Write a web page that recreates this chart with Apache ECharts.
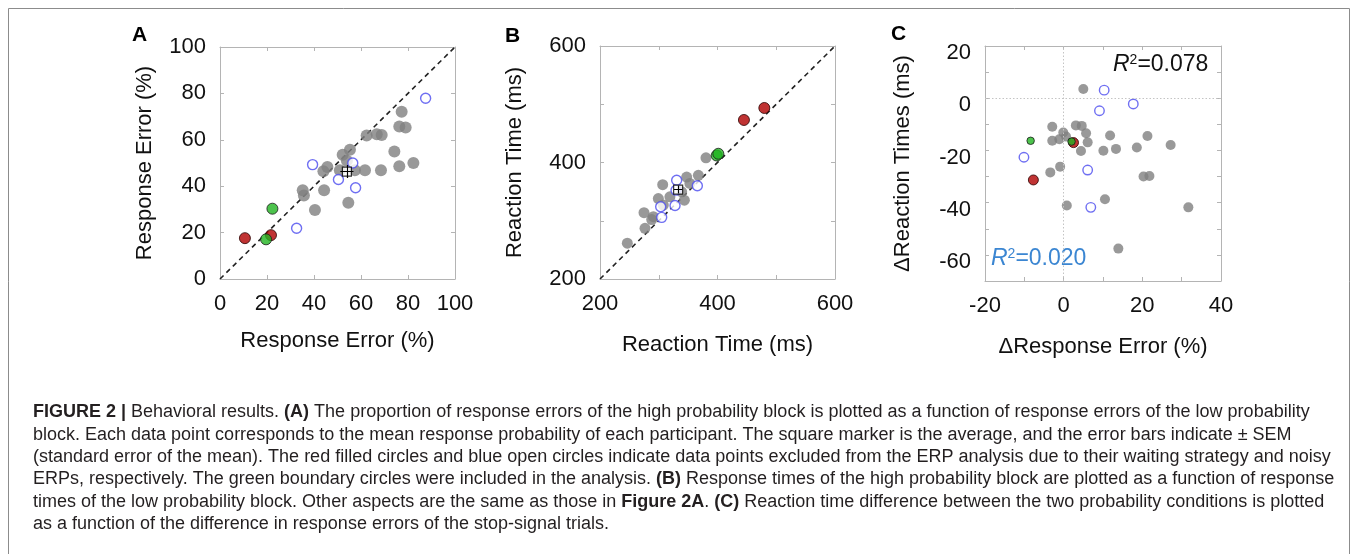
<!DOCTYPE html>
<html>
<head>
<meta charset="utf-8">
<script src="https://cdn.jsdelivr.net/npm/echarts@6/dist/echarts.min.js"></script>
<style>
  html, body { margin: 0; padding: 0; background: #fff; }
  #chart { width: 1358px; height: 554px; }
</style>
</head>
<body>
<div id="chart"></div>
<script>
// ---- panel A : response error (%) low vs high probability block ----
const aGray = [[35.2, 38.3], [35.7, 36.0], [40.4, 29.7], [44.3, 38.3], [44.0, 46.4], [45.7, 48.3],
  [54.6, 32.9], [52.2, 53.6], [55.3, 55.7], [54.0, 51.0], [51.0, 46.9], [57.4, 46.9], [61.7, 46.9],
  [62.4, 61.9], [66.7, 62.4], [68.8, 62.1], [68.5, 46.9], [74.2, 55.0], [76.3, 48.6], [76.3, 65.7],
  [79.0, 65.3], [77.3, 72.1], [82.3, 50.0]];
const aBlue = [[39.4, 49.3], [32.6, 21.9], [50.4, 42.9], [56.5, 50.0], [57.7, 39.3], [87.5, 77.9]];
const aRed = [[10.6, 17.6], [21.7, 18.9]];
const aGreen = [[22.3, 30.3], [19.6, 17.1]];
const aMean = [54.0, 46.3];
const aSem = [2.8, 2.8];
const aDiag = [[0, 0], [100, 100]];

// ---- panel B : reaction time (ms) ----
const bGray = [[246.5, 261.5], [274.9, 313.8], [276.6, 287.0], [288.0, 302.0], [290.8, 307.0],
  [306.7, 362.0], [299.3, 338.0], [307.8, 326.9], [319.0, 341.0], [343.6, 335.4], [347.5, 375.0],
  [353.0, 364.0], [367.4, 378.0], [380.4, 408.0], [339.0, 349.6]];
const bBlue = [[330.5, 369.6], [329.4, 352.5], [303.3, 324.0], [305.0, 305.8], [327.7, 326.3], [365.7, 360.0]];
const bRed = [[445.0, 473.0], [479.7, 493.6]];
const bGreen = [[398.6, 412.0], [401.4, 415.0]];
const bMean = [333.0, 353.6];
const bSem = [7, 7];
const bDiag = [[200, 200], [600, 600]];

// ---- panel C : differences ----
const cGray = [[5.0, 3.5], [-2.9, -10.9], [-2.9, -16.3], [-1.1, -15.7], [-0.1, -13.1], [0.6, -14.7],
  [-0.9, -26.2], [-3.4, -28.4], [0.8, -41.1], [3.1, -10.4], [4.6, -10.6], [5.7, -13.4], [6.1, -16.9],
  [4.4, -20.2], [10.1, -20.1], [11.8, -14.3], [13.3, -19.4], [10.5, -38.7], [13.9, -57.6], [18.6, -18.9],
  [21.3, -14.5], [20.3, -30.0], [21.8, -29.8], [27.2, -17.9], [31.7, -41.8]];
const cBlue = [[-10.1, -22.6], [10.3, 3.1], [9.1, -4.8], [17.7, -2.2], [6.1, -27.5], [6.9, -41.8]];
const cRed = [[-7.7, -31.3], [2.5, -17.0]];
const cGreen = [[-8.4, -16.3], [2.0, -16.6]];

// axis ranges / ticks  [min, max, tick step, label step]
const aRange = [0, 100, 20, 20];
const bRange = [200, 600, 100, 200];
const cxRange = [-20, 40, 10, 20];
const cyRange = [-70, 20, 10, 20];

const axisTitles = ['Response Error (%)', 'Reaction Time (ms)', 'ΔResponse Error (%)', 'ΔReaction Times (ms)'];

const FONT = '"Liberation Sans", Arial, Helvetica, sans-serif';
const frameColor = '#b4b4b4';
const grayDot = '#808080';
const blueRing = '#4b4bef';
const redDot = '#b00000';
const greenDot = '#20b420';

const grids = [
  { left: 220, top: 47, width: 235, height: 232 },
  { left: 600, top: 46, width: 235, height: 233 },
  { left: 985, top: 46, width: 236, height: 235 }
];

// dropDown: push tick labels a few px below their tick (panel C y axis does that in the figure)
function makeAxis(dim, gi, range, main, name, nameGap, dropDown) {
  const step = range[3];
  return {
    type: 'value',
    gridIndex: gi,
    position: dim === 'x' ? (main ? 'bottom' : 'top') : (main ? 'left' : 'right'),
    min: range[0],
    max: range[1],
    interval: range[2],
    axisLine: { show: true, onZero: false, lineStyle: { color: frameColor, width: 1 } },
    axisTick: { show: true, inside: true, length: 4, lineStyle: { color: frameColor } },
    splitLine: { show: false },
    axisLabel: {
      show: main,
      margin: 14,
      color: '#111',
      fontSize: 22,
      fontFamily: FONT,
      formatter: v => {
        if (v % step !== 0) return '';
        return dropDown ? '{d|' + v + '}' : String(v);
      },
      rich: {
        d: { fontSize: 22, fontFamily: FONT, color: '#111', padding: [14, 0, 0, 0] }
      }
    },
    name: main ? name : '',
    nameLocation: 'middle',
    nameGap: nameGap,
    nameTextStyle: { color: '#111', fontSize: 22, fontFamily: FONT }
  };
}

function dots(gi, data, size, style, z) {
  return {
    type: 'scatter', xAxisIndex: gi * 2, yAxisIndex: gi * 2,
    data: data, symbol: 'circle', symbolSize: size, itemStyle: style, z: z, silent: true
  };
}

function diag(gi, data) {
  return {
    type: 'line', xAxisIndex: gi * 2, yAxisIndex: gi * 2, data: data,
    showSymbol: false, silent: true, z: 1,
    lineStyle: { color: '#222', width: 1.6, type: [5, 4] }
  };
}

function meanMarker(gi, m, e) {
  return [
    {
      type: 'scatter', xAxisIndex: gi * 2, yAxisIndex: gi * 2, data: [m],
      symbol: 'rect', symbolSize: 9, z: 6, silent: true,
      itemStyle: { color: '#fff', borderColor: '#000', borderWidth: 1.2 }
    },
    {
      type: 'lines', coordinateSystem: 'cartesian2d', xAxisIndex: gi * 2, yAxisIndex: gi * 2,
      z: 7, silent: true,
      lineStyle: { color: '#000', width: 1.2, opacity: 1 },
      data: [
        { coords: [[m[0] - e[0], m[1]], [m[0] + e[0], m[1]]] },
        { coords: [[m[0], m[1] - e[1]], [m[0], m[1] + e[1]]] }
      ]
    }
  ];
}

const grayStyle = { color: grayDot };
const blueStyle = { color: '#fff', borderColor: blueRing, borderWidth: 1.4 };
const redStyle = { color: redDot, borderColor: '#2a0000', borderWidth: 1 };
const greenStyle = { color: greenDot, borderColor: '#1a1a1a', borderWidth: 1 };

const caption =
  '{b|FIGURE 2 |} Behavioral results. {b|(A)} The proportion of response errors of the high probability block is plotted as a function of response errors of the low probability\n' +
  'block. Each data point corresponds to the mean response probability of each participant. The square marker is the average, and the error bars indicate ± SEM\n' +
  '(standard error of the mean). The red filled circles and blue open circles indicate data points excluded from the ERP analysis due to their waiting strategy and noisy\n' +
  'ERPs, respectively. The green boundary circles were included in the analysis. {b|(B)} Response times of the high probability block are plotted as a function of response\n' +
  'times of the low probability block. Other aspects are the same as those in {b|Figure 2A}. {b|(C)} Reaction time difference between the two probability conditions is plotted\n' +
  'as a function of the difference in response errors of the stop-signal trials.';

const chart = echarts.init(document.getElementById('chart'));

const option = {
  animation: false,
  backgroundColor: '#fff',
  grid: grids,
  xAxis: [
    makeAxis('x', 0, aRange, true, axisTitles[0], 51),
    makeAxis('x', 0, aRange, false),
    makeAxis('x', 1, bRange, true, axisTitles[1], 55),
    makeAxis('x', 1, bRange, false),
    makeAxis('x', 2, cxRange, true, axisTitles[2], 55),
    makeAxis('x', 2, cxRange, false)
  ],
  yAxis: [
    makeAxis('y', 0, aRange, true, axisTitles[0], 64),
    makeAxis('y', 0, aRange, false),
    makeAxis('y', 1, bRange, true, axisTitles[1], 74),
    makeAxis('y', 1, bRange, false),
    makeAxis('y', 2, cyRange, true, axisTitles[3], 71, true),
    makeAxis('y', 2, cyRange, false)
  ],
  series: [
    // A
    diag(0, aDiag),
    dots(0, aGray, 12, grayStyle, 2),
    dots(0, aBlue, 10, blueStyle, 3),
    dots(0, aRed, 11, redStyle, 4),
    dots(0, aGreen, 11, greenStyle, 4),
    ...meanMarker(0, aMean, aSem),
    // B
    diag(1, bDiag),
    dots(1, bGray, 11, grayStyle, 2),
    dots(1, bBlue, 10, blueStyle, 3),
    dots(1, bRed, 11, redStyle, 4),
    dots(1, bGreen, 11, greenStyle, 4),
    ...meanMarker(1, bMean, bSem),
    // C
    {
      type: 'scatter', xAxisIndex: 4, yAxisIndex: 4, data: cGray, symbolSize: 10,
      itemStyle: grayStyle, z: 2, silent: true,
      markLine: {
        silent: true, symbol: 'none', label: { show: false },
        lineStyle: { color: '#c4c4c4', width: 1, type: [1.5, 2] },
        data: [{ xAxis: 0 }, { yAxis: 0 }]
      }
    },
    dots(2, cBlue, 9.5, blueStyle, 3),
    dots(2, cRed, 10, redStyle, 4),
    dots(2, cGreen, 7.5, greenStyle, 5)
  ],
  graphic: [
    {
      type: 'rect', silent: true, z: 0,
      shape: { x: 8.5, y: 8.5, width: 1341, height: 560 },
      style: { fill: 'none', stroke: '#8c8c8c', lineWidth: 1 }
    },
    { type: 'text', left: 132, top: 25, style: { text: 'A', font: 'bold 21px ' + FONT, fill: '#000' } },
    { type: 'text', left: 505, top: 26, style: { text: 'B', font: 'bold 21px ' + FONT, fill: '#000' } },
    { type: 'text', left: 891, top: 24, style: { text: 'C', font: 'bold 21px ' + FONT, fill: '#000' } },
    {
      type: 'text', left: 1113, top: 53,
      style: {
        text: '{r|R}{s|2}{t|=0.078}', fill: '#111',
        rich: {
          r: { fontStyle: 'italic', fontSize: 23, fontFamily: FONT, fill: '#111' },
          s: { fontSize: 14, fontFamily: FONT, verticalAlign: 'top', fill: '#111' },
          t: { fontSize: 23, fontFamily: FONT, fill: '#111' }
        }
      }
    },
    {
      type: 'text', left: 991, top: 247,
      style: {
        text: '{r|R}{s|2}{t|=0.020}', fill: '#3b86d2',
        rich: {
          r: { fontStyle: 'italic', fontSize: 23, fontFamily: FONT, fill: '#3b86d2' },
          s: { fontSize: 14, fontFamily: FONT, verticalAlign: 'top', fill: '#3b86d2' },
          t: { fontSize: 23, fontFamily: FONT, fill: '#3b86d2' }
        }
      }
    },
    {
      type: 'text', left: 33, top: 401,
      style: {
        text: caption, fontSize: 18, fontFamily: FONT, fill: '#231f20', lineHeight: 22.4,
        rich: {
          b: { fontWeight: 'bold', fontSize: 18, fontFamily: FONT, fill: '#231f20', lineHeight: 22.4 }
        }
      }
    }
  ]
};

chart.setOption(option);
</script>
</body>
</html>
